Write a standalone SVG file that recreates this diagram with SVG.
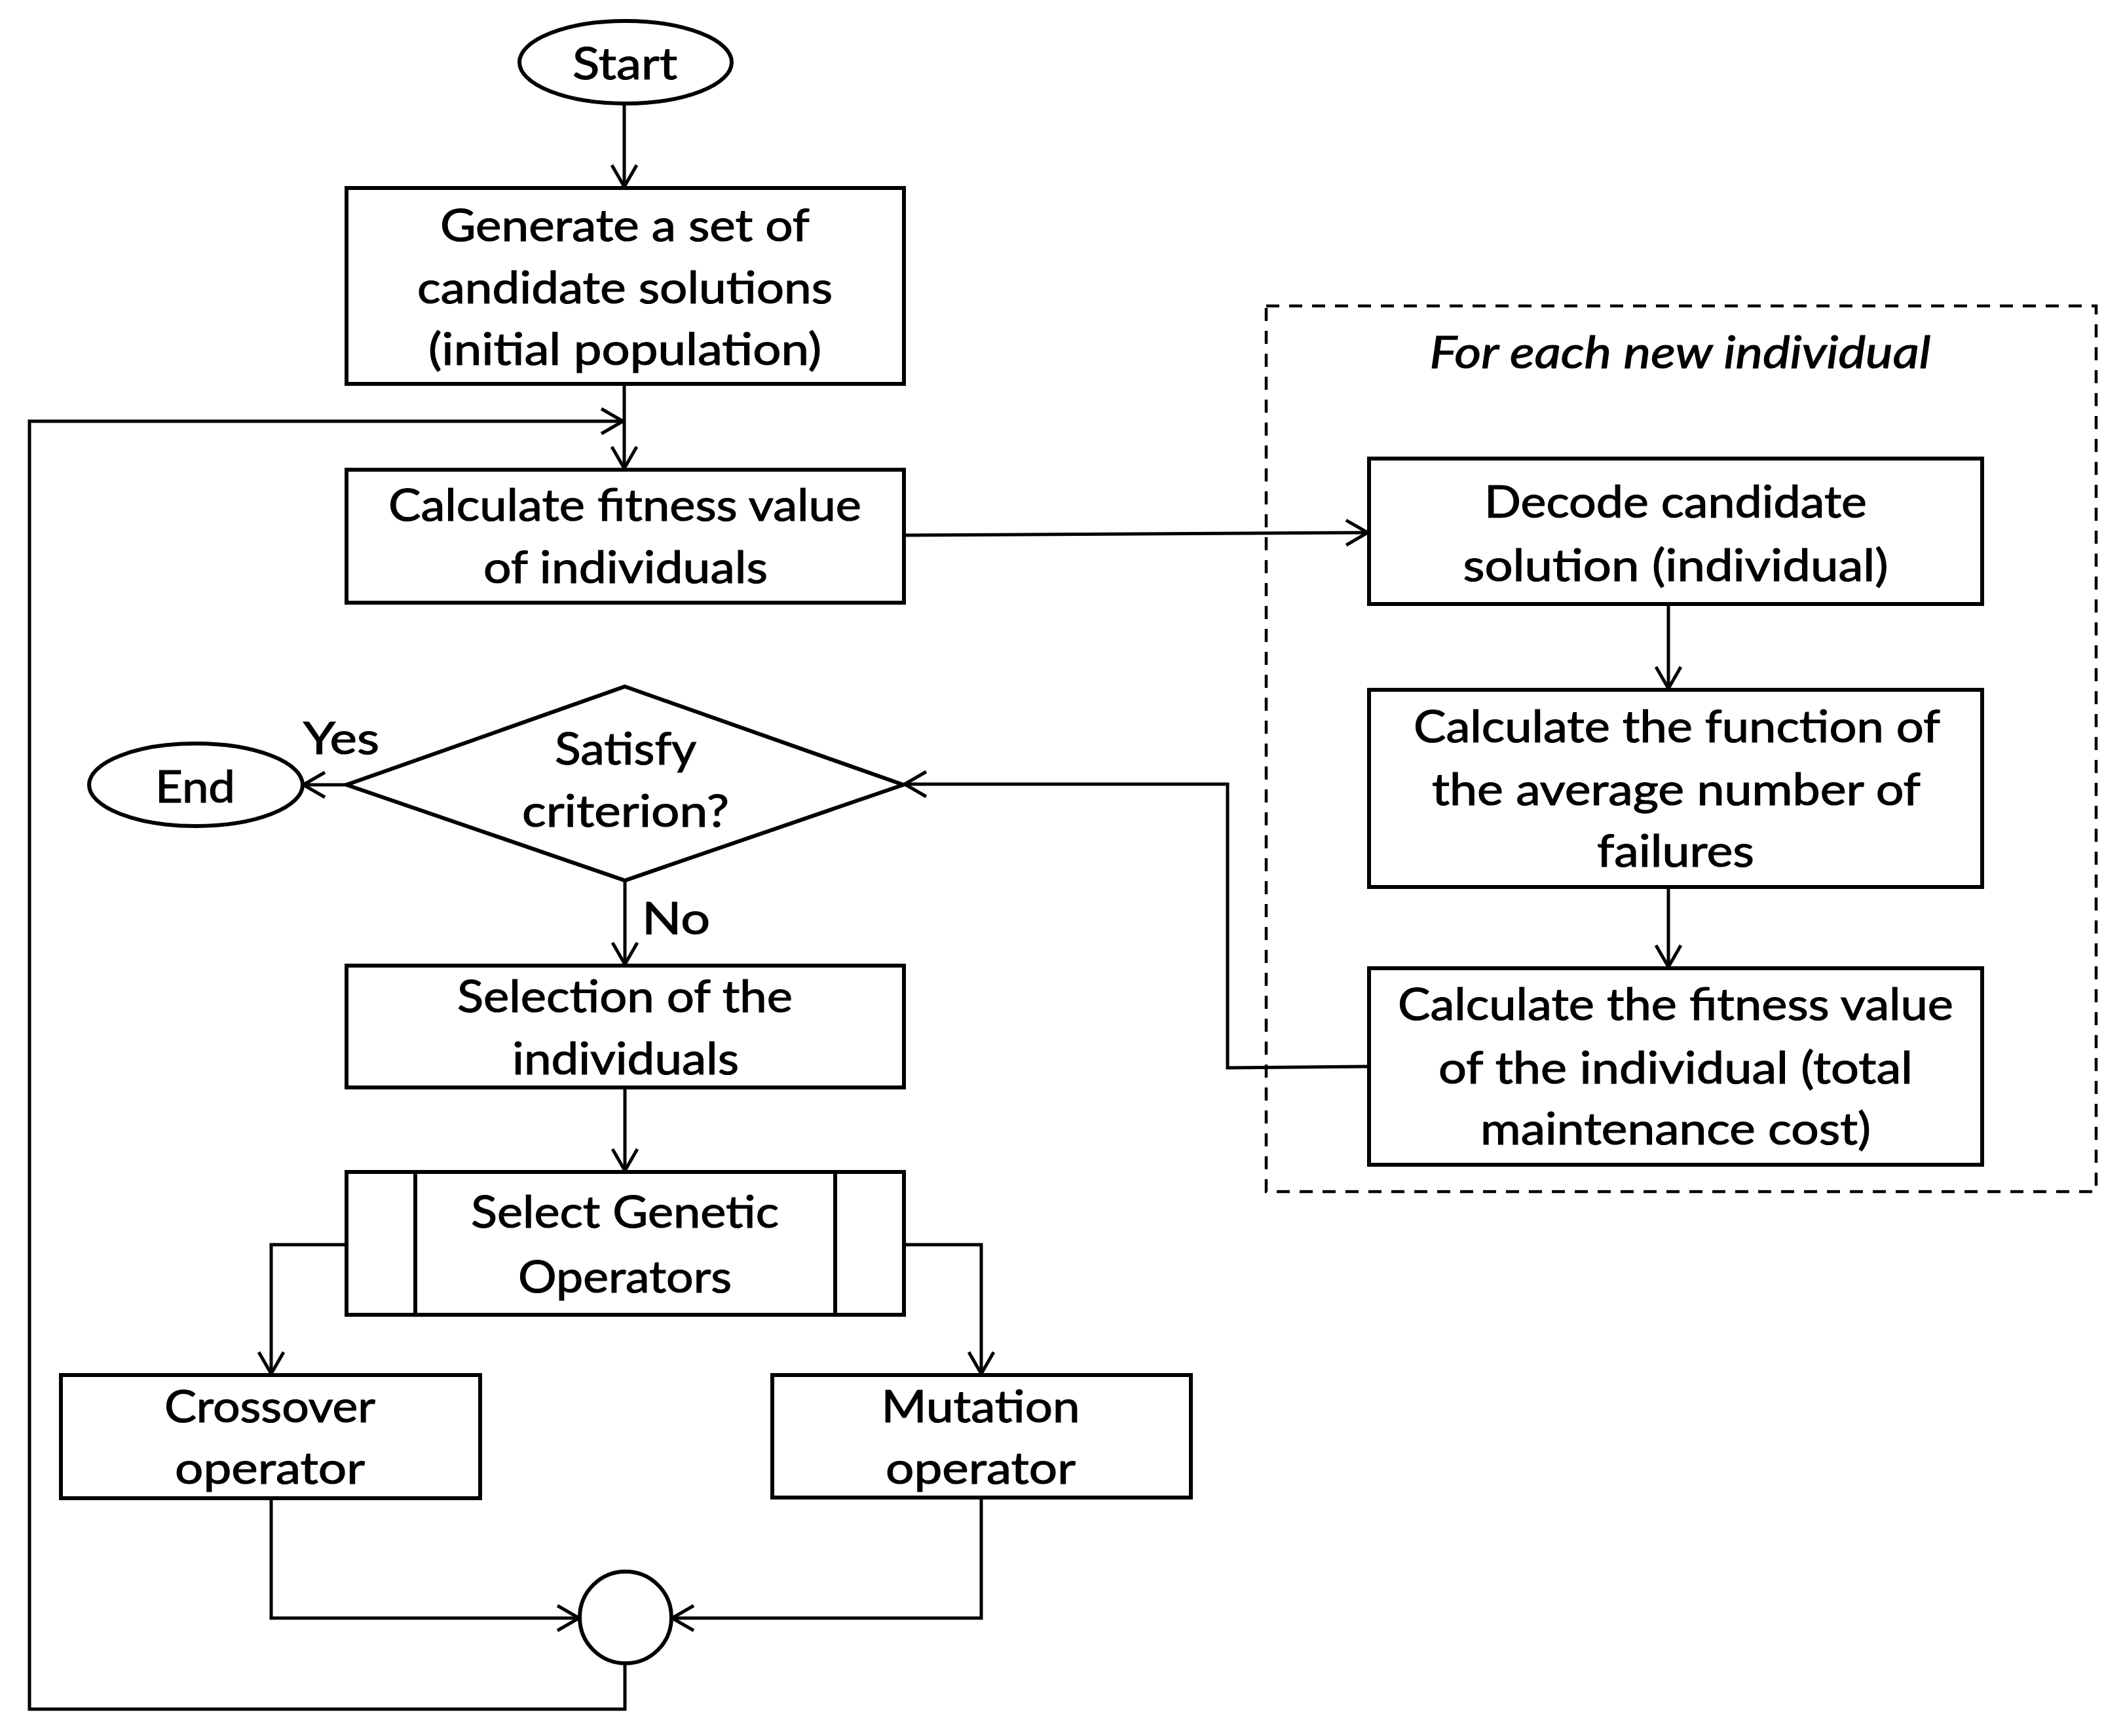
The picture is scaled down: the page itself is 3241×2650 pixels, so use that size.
<svg xmlns="http://www.w3.org/2000/svg" width="3241" height="2650" viewBox="0 0 3241 2650">
<style>
.box{fill:#fff;stroke:#000;stroke-width:6}
.ln{fill:none;stroke:#000;stroke-width:5;stroke-linejoin:miter}
.dash{fill:none;stroke:#000;stroke-width:4.5;stroke-dasharray:20 15}
text{font-family:Lato,"Open Sans","Liberation Sans",sans-serif;font-size:68px;fill:#000;stroke:#000;stroke-width:1.2;text-anchor:middle}
.it{font-style:italic}
</style>
<defs>
<marker id="arr" markerUnits="userSpaceOnUse" viewBox="-40 -25 46 50" markerWidth="46" markerHeight="50" refX="0" refY="0" orient="auto">
<path d="M-33,-19 L0,0 L-33,19" fill="none" stroke="#000" stroke-width="5"/>
</marker>
</defs>
<rect width="3241" height="2650" fill="#fff"/>

<g id="group-individual">
<rect class="dash" x="1933" y="467" width="1267" height="1352"/>
<text class="it" x="2565" y="562" textLength="765" lengthAdjust="spacingAndGlyphs">For each new individual</text>
</g>

<g id="connectors">
<path class="ln" d="M953,157 L953,285" marker-end="url(#arr)"/>
<path class="ln" d="M953,587 L953,715" marker-end="url(#arr)"/>
<path class="ln" d="M954,2539 L954,2609 L45,2609 L45,643 L951,643" marker-end="url(#arr)"/>
<path class="ln" d="M1381,817 L2088,813" marker-end="url(#arr)"/>
<path class="ln" d="M2547,923 L2547,1051" marker-end="url(#arr)"/>
<path class="ln" d="M2547,1354 L2547,1476" marker-end="url(#arr)"/>
<path class="ln" d="M2090,1628 L1874,1630 L1874,1197 L1381,1197" marker-end="url(#arr)"/>
<path class="ln" d="M529,1198 L463,1198" marker-end="url(#arr)"/>
<path class="ln" d="M954,1344 L954,1472" marker-end="url(#arr)"/>
<path class="ln" d="M954,1660 L954,1787" marker-end="url(#arr)"/>
<path class="ln" d="M529,1900 L414,1900 L414,2097" marker-end="url(#arr)"/>
<path class="ln" d="M1380,1900 L1498,1900 L1498,2097" marker-end="url(#arr)"/>
<path class="ln" d="M414,2287 L414,2470 L884,2470" marker-end="url(#arr)"/>
<path class="ln" d="M1498,2286 L1498,2470 L1026,2470" marker-end="url(#arr)"/>
<text x="521" y="1151" textLength="116" lengthAdjust="spacingAndGlyphs">Yes</text>
<text x="1032" y="1426" textLength="104" lengthAdjust="spacingAndGlyphs">No</text>
</g>

<g id="start">
<ellipse class="box" cx="955" cy="95" rx="162" ry="63"/>
<text x="954" y="121" textLength="160" lengthAdjust="spacingAndGlyphs">Start</text>
</g>

<g id="generate">
<rect class="box" x="529" y="287" width="851" height="299"/>
<text x="954" y="368" textLength="564" lengthAdjust="spacingAndGlyphs">Generate a set of</text>
<text x="954" y="463" textLength="634" lengthAdjust="spacingAndGlyphs">candidate solutions</text>
<text x="954" y="557" textLength="600" lengthAdjust="spacingAndGlyphs">(initial population)</text>
</g>

<g id="calc-fitness">
<rect class="box" x="529" y="717" width="851" height="203"/>
<text x="954" y="795" textLength="722" lengthAdjust="spacingAndGlyphs">Calculate fitness value</text>
<text x="955" y="890" textLength="434" lengthAdjust="spacingAndGlyphs">of individuals</text>
</g>

<g id="criterion">
<polygon class="box" points="954,1048 1379,1198 954,1344 529,1198"/>
<text x="955" y="1167" textLength="216" lengthAdjust="spacingAndGlyphs">Satisfy</text>
<text x="955" y="1262" textLength="316" lengthAdjust="spacingAndGlyphs">criterion?</text>
</g>

<g id="end">
<ellipse class="box" cx="299" cy="1198" rx="163" ry="63"/>
<text x="298" y="1225" textLength="122" lengthAdjust="spacingAndGlyphs">End</text>
</g>

<g id="selection">
<rect class="box" x="529" y="1474" width="851" height="186"/>
<text x="954" y="1545" textLength="512" lengthAdjust="spacingAndGlyphs">Selection of the</text>
<text x="955" y="1640" textLength="346" lengthAdjust="spacingAndGlyphs">individuals</text>
</g>

<g id="select-operators">
<rect class="box" x="529" y="1789" width="851" height="218"/>
<line class="box" x1="634" y1="1789" x2="634" y2="2007"/>
<line class="box" x1="1275" y1="1789" x2="1275" y2="2007"/>
<text x="954" y="1874" textLength="470" lengthAdjust="spacingAndGlyphs">Select Genetic</text>
<text x="954" y="1973" textLength="326" lengthAdjust="spacingAndGlyphs">Operators</text>
</g>

<g id="crossover">
<rect class="box" x="93" y="2099" width="640" height="188"/>
<text x="412" y="2171" textLength="322" lengthAdjust="spacingAndGlyphs">Crossover</text>
<text x="412" y="2265" textLength="290" lengthAdjust="spacingAndGlyphs">operator</text>
</g>

<g id="mutation">
<rect class="box" x="1179" y="2099" width="639" height="187"/>
<text x="1497" y="2171" textLength="303" lengthAdjust="spacingAndGlyphs">Mutation</text>
<text x="1497" y="2265" textLength="290" lengthAdjust="spacingAndGlyphs">operator</text>
</g>

<g id="merge">
<circle class="box" cx="955" cy="2469" r="70"/>
</g>

<g id="decode">
<rect class="box" x="2090" y="700" width="936" height="222"/>
<text x="2558" y="790" textLength="584" lengthAdjust="spacingAndGlyphs">Decode candidate</text>
<text x="2558" y="887" textLength="649" lengthAdjust="spacingAndGlyphs">solution (individual)</text>
</g>

<g id="failures-function">
<rect class="box" x="2090" y="1053" width="936" height="301"/>
<text x="2560" y="1133" textLength="804" lengthAdjust="spacingAndGlyphs">Calculate the function of</text>
<text x="2559" y="1229" textLength="746" lengthAdjust="spacingAndGlyphs">the average number of</text>
<text x="2558" y="1323" textLength="240" lengthAdjust="spacingAndGlyphs">failures</text>
</g>

<g id="fitness-individual">
<rect class="box" x="2090" y="1478" width="936" height="300"/>
<text x="2558" y="1557" textLength="848" lengthAdjust="spacingAndGlyphs">Calculate the fitness value</text>
<text x="2558" y="1654" textLength="724" lengthAdjust="spacingAndGlyphs">of the individual (total</text>
<text x="2558" y="1747" textLength="596" lengthAdjust="spacingAndGlyphs">maintenance cost)</text>
</g>
</svg>
